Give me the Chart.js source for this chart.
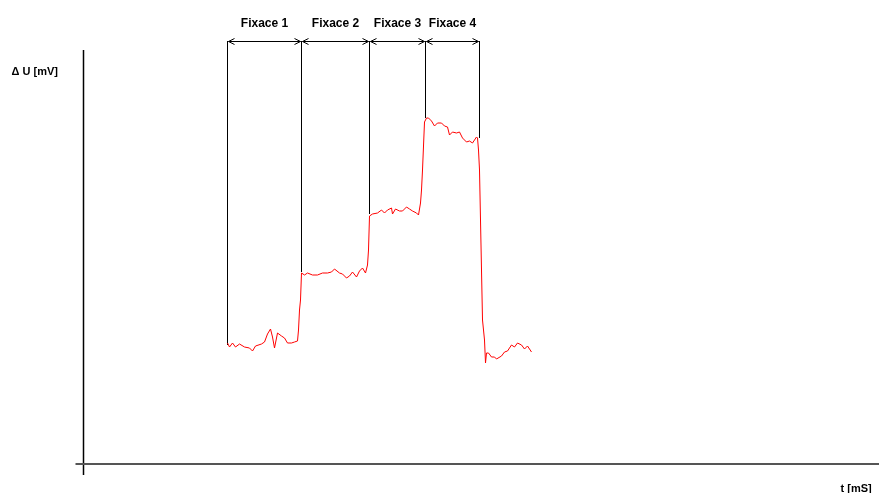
<!DOCTYPE html>
<html>
<head>
<meta charset="utf-8">
<script src="https://cdn.jsdelivr.net/npm/chart.js@4/dist/chart.umd.min.js"></script>
<style>
html,body{margin:0;padding:0;background:#fff;}
#wrap{width:879px;height:493px;position:relative;}
</style>
</head>
<body>
<div id="wrap"><canvas id="c" width="879" height="493"></canvas></div>
<script>
// time (ms, arbitrary units) and voltage change (mV, arbitrary units)
const signalT = [144,146,149,152,156,161,166,169,172,178,181,184,187,189,191,194,198,201,204,208,211,214,215,216,
  217,218,221,224,229,234,239,244,248,251,256,259,263,266,269,273,276,279,282,284,285,
  286,289,294,298,301,304,308,309,312,316,319,323,326,329,333,335,337,338,
  339,341,343,345,348,351,354,358,361,364,366,369,373,376,379,383,386,389,393,394,395,396,
  399,401,402,403,405,408,411,413,418,421,424,428,431,434,438,441,444,448];
const signalU = [121,117,121,117,120,117,116,113,118,120,122,130,135,127,116,131,128,126,121,121,122,123,134,154,
  164,191,189,191,189,189,191,191,192,195,191,190,186,188,192,187,193,196,191,199,214,
  248,250,251,254,251,254,256,250,255,253,253,257,255,253,251,249,261,274,
  294,342,346,346,343,338,341,341,338,337,329,332,331,332,326,322,323,321,327,326,314,294,
  144,124,101,111,111,107,107,105,108,112,113,119,117,121,119,115,118,112];

const phaseLabels = ["Fixace 1","Fixace 2","Fixace 3","Fixace 4"];
const phaseBounds = [144,218,286,342,396];       // t at each phase boundary
const boundBottoms = [119,192,250,346,326];      // U where each boundary line ends
const markerTop = 423;                           // U level of the arrow line

const yAxisLabel = "\u0394 U [mV]";
const xAxisLabel = "t [mS]";

const datasets = [{
  data: signalT.map((t,i)=>({x:t,y:signalU[i]})),
  borderColor:'rgb(255,0,0)', borderWidth:1, pointRadius:0, tension:0, fill:false
}];
phaseBounds.forEach((b,i)=>{
  datasets.push({
    data:[{x:b,y:markerTop},{x:b,y:boundBottoms[i]}],
    borderColor:'#000', borderWidth:1, pointRadius:0, fill:false
  });
});

const decor = {
  id:'decor',
  afterDatasetsDraw(chart){
    const ctx = chart.ctx, xs = chart.scales.x, ys = chart.scales.y;
    ctx.save();
    // axes
    const x0 = xs.getPixelForValue(0), y0 = ys.getPixelForValue(0);
    ctx.strokeStyle = '#000'; ctx.lineWidth = 1.5;
    ctx.beginPath(); ctx.moveTo(x0, ys.getPixelForValue(414)); ctx.lineTo(x0, ys.getPixelForValue(-11)); ctx.stroke();
    ctx.strokeStyle = '#555'; ctx.lineWidth = 2;
    ctx.beginPath(); ctx.moveTo(xs.getPixelForValue(-8), y0); ctx.lineTo(xs.getPixelForValue(796), y0); ctx.stroke();
    // arrows and labels
    const ya = Math.round(ys.getPixelForValue(markerTop)) + 0.5;
    ctx.strokeStyle = '#000'; ctx.lineWidth = 1;
    ctx.fillStyle = '#000';
    ctx.font = 'bold 12px "Liberation Sans", Arial, sans-serif';
    ctx.textAlign = 'center'; ctx.textBaseline = 'middle';
    for (let i=0;i<phaseLabels.length;i++){
      const a = xs.getPixelForValue(phaseBounds[i]), b = xs.getPixelForValue(phaseBounds[i+1]);
      ctx.beginPath(); ctx.moveTo(a+1, ya); ctx.lineTo(b-1, ya); ctx.stroke();
      ctx.beginPath();
      ctx.moveTo(a+7, ya-3); ctx.lineTo(a+1, ya); ctx.lineTo(a+7, ya+3);
      ctx.moveTo(b-7, ya-3); ctx.lineTo(b-1, ya); ctx.lineTo(b-7, ya+3);
      ctx.stroke();
      ctx.fillText(phaseLabels[i], (a+b)/2, ys.getPixelForValue(markerTop+17));
    }
    ctx.font = 'bold 11px "Liberation Sans", Arial, sans-serif';
    ctx.textAlign = 'left';
    ctx.fillText(yAxisLabel, xs.getPixelForValue(-72), ys.getPixelForValue(392));
    ctx.fillText(xAxisLabel, xs.getPixelForValue(757), ys.getPixelForValue(-25));
    ctx.restore();
  }
};

new Chart(document.getElementById('c'), {
  type:'line',
  data:{datasets},
  options:{
    responsive:false, animation:false,
    layout:{padding:{left:83.5,right:0.5,top:0,bottom:29}},
    plugins:{legend:{display:false},tooltip:{enabled:false}},
    scales:{
      x:{type:'linear',min:0,max:795,display:false},
      y:{type:'linear',min:0,max:464,display:false}
    },
    elements:{line:{borderCapStyle:'butt'}}
  },
  plugins:[decor]
});
</script>
</body>
</html>
